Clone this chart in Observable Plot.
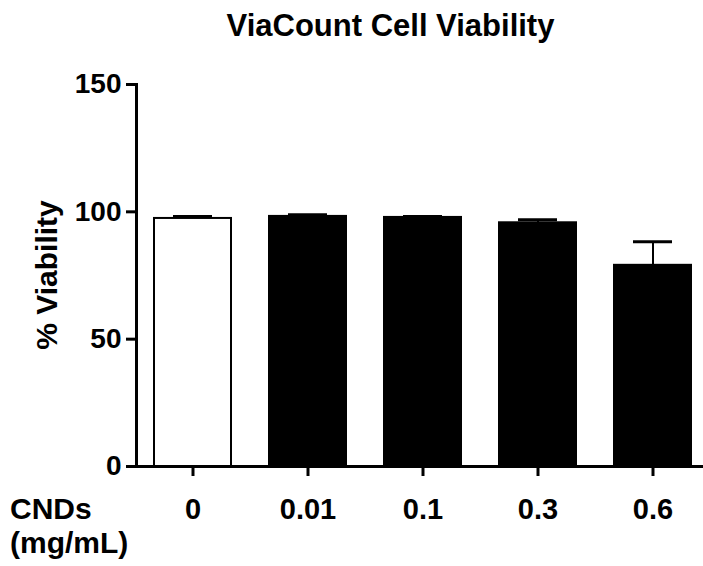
<!DOCTYPE html>
<html><head><meta charset="utf-8">
<script src="https://cdn.jsdelivr.net/npm/d3@7"></script>
<script src="https://cdn.jsdelivr.net/npm/@observablehq/plot@0.6"></script>
<style>
body{margin:0;background:#fff;font-family:"Liberation Sans",Arial,sans-serif;}
#wrap{position:relative;width:703px;height:566px;overflow:hidden;}
#title{height:50px;box-sizing:border-box;padding-left:78px;padding-top:10px;line-height:31px;text-align:center;font-weight:bold;font-size:31px;color:#000;white-space:nowrap;}
.lab{position:absolute;font-weight:bold;font-size:30px;line-height:30px;color:#000;white-space:nowrap;}
</style></head>
<body>
<div id="wrap">
<div id="title">ViaCount Cell Viability</div>
<div id="chart"></div>
<div class="lab" id="ylab" style="left:47px;top:275px;transform:translate(-50%,-50%) rotate(-90deg);">% Viability</div>
<div class="lab" style="left:10px;top:494px;">CNDs</div>
<div class="lab" style="left:10px;top:528px;">(mg/mL)</div>
</div>
<script>
const conc = ["0", "0.01", "0.1", "0.3", "0.6"];
const viability = [97.4, 98.2, 97.8, 95.7, 79.0];
const sem = [0.8, 0.7, 0.4, 1.2, 9.3];
const yTicks = [0, 50, 100, 150];

const data = conc.map((c, i) => ({conc: c, v: viability[i], err: sem[i]}));

const chart = Plot.plot({
  width: 703,
  height: 516,
  marginTop: 34,
  marginBottom: 100,
  marginLeft: 136,
  marginRight: 0,
  style: {fontFamily: "'Liberation Sans', Arial, sans-serif", fontWeight: "bold", fontSize: "28px", color: "#000", background: "#fff", overflow: "visible"},
  x: {domain: conc, range: [136, 710], paddingInner: 0.33, paddingOuter: 0.16, axis: null},
  y: {domain: [0, 150], axis: null},
  marks: [
    Plot.barY(data, {x: "conc", y: "v", fill: d => d.conc === "0" ? "white" : "black", stroke: "black", strokeWidth: 2}),
    Plot.ruleX(data, {x: "conc", y1: "v", y2: d => d.v + d.err, stroke: "black", strokeWidth: 2}),
    Plot.tickY(data, {x: "conc", y: d => d.v + d.err, stroke: "black", strokeWidth: 3, inset: 19}),
    Plot.axisY(yTicks, {tickSize: 10, tickPadding: 5, strokeWidth: 3, fontSize: 28, fontWeight: "bold", label: null}),
    Plot.axisX(conc, {tickSize: 10, tickPadding: 22, strokeWidth: 3, fontSize: 29, fontWeight: "bold", label: null}),
    Plot.frame({anchor: "left", strokeWidth: 3}),
    Plot.ruleY([0], {strokeWidth: 3})
  ]
});
document.getElementById("chart").appendChild(chart);
</script>
</body></html>
